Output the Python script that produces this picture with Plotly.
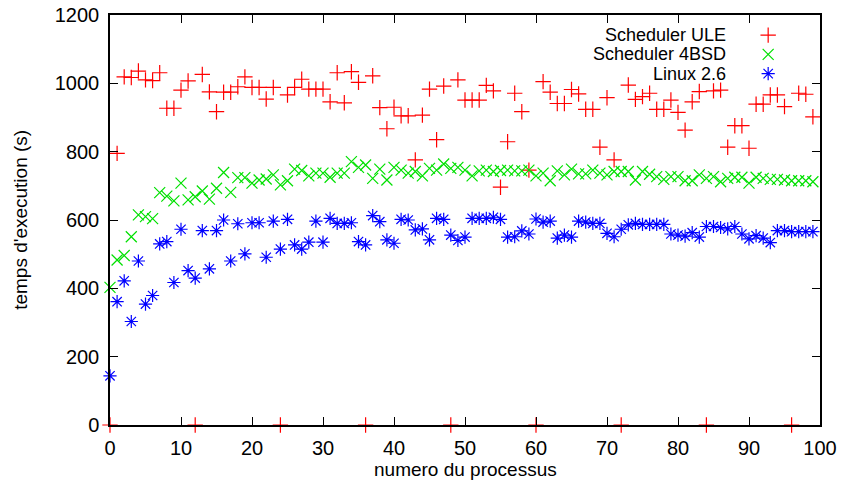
import plotly.graph_objects as go

process = list(range(100))

ule = [0, 795, 1019, 1017, 1036, 1010, 1008, 1031, 927, 927, 980, 1007, 0, 1026, 975, 917, 974, 974, 990, 1019,
       988, 988, 954, 988, 0, 966, 988, 1012, 983, 983, 983, 946, 1031, 943, 1034, 1003, 0, 1022, 929, 867,
       930, 905, 905, 776, 907, 983, 835, 992, 0, 1010, 951, 951, 951, 994, 978, 696, 829, 971, 917, 746,
       0, 1005, 974, 941, 941, 982, 969, 924, 924, 813, 958, 776, 0, 995, 953, 961, 971, 924, 924, 951,
       915, 863, 946, 976, 0, 978, 980, 813, 876, 876, 810, 939, 939, 966, 966, 932, 0, 971, 968, 902]

bsd = [403, 483, 496, 551, 615, 610, 604, 680, 670, 656, 708, 659, 668, 685, 661, 693, 739, 681, 724, 724,
       708, 717, 720, 732, 703, 715, 749, 745, 729, 737, 737, 725, 737, 737, 771, 754, 761, 722, 749, 717,
       754, 746, 737, 742, 729, 751, 746, 764, 751, 754, 746, 729, 744, 746, 742, 745, 746, 744, 744, 746,
       729, 737, 715, 744, 732, 749, 735, 735, 746, 737, 732, 742, 742, 742, 717, 742, 734, 727, 719, 727,
       727, 715, 715, 732, 722, 727, 712, 722, 725, 725, 708, 725, 722, 719, 719, 717, 715, 715, 715, 712]

linux = [144, 361, 422, 303, 480, 354, 379, 530, 537, 417, 573, 452, 430, 569, 457, 569, 600, 480, 589, 501,
         592, 592, 491, 597, 515, 602, 527, 515, 535, 597, 535, 605, 590, 590, 592, 537, 527, 613, 595, 542,
         532, 602, 600, 571, 574, 542, 605, 602, 556, 540, 550, 605, 605, 605, 608, 602, 550, 551, 568, 559,
         603, 594, 597, 547, 556, 550, 597, 594, 590, 590, 561, 551, 573, 586, 590, 587, 587, 587, 587, 559,
         556, 553, 563, 550, 581, 581, 578, 574, 581, 559, 545, 554, 547, 534, 569, 569, 566, 566, 566, 566]

series_names = ["Scheduler ULE", "Scheduler 4BSD", "Linux 2.6"]
series_values = [ule, bsd, linux]
colors = ["#ff0000", "#00e000", "#0000ff"]
symbols = ["cross-thin", "x-thin", "asterisk"]
sizes = [11, 11, 11]

x_ticks = list(range(0, 101, 10))
y_ticks = list(range(0, 1201, 200))

x_title = "numero du processus"
y_title = "temps d'execution (s)"

FONT = "Liberation Sans"

fig = go.Figure()
for name, vals, c, s, sz in zip(series_names, series_values, colors, symbols, sizes):
    fig.add_trace(go.Scatter(
        x=process, y=vals, mode="markers", name=name, showlegend=False,
        cliponaxis=False,
        marker=dict(symbol=s, size=sz, color=c, line=dict(color=c, width=1.2)),
    ))

# custom legend (text on left, symbol on right) on an overlay axis
leg_y = [0.951, 0.904, 0.857]
for name, c, s, sz, ly in zip(series_names, colors, symbols, sizes, leg_y):
    fig.add_trace(go.Scatter(
        x=[0.927], y=[ly], xaxis="x2", yaxis="y2", mode="markers", showlegend=False,
        hoverinfo="skip", cliponaxis=False,
        marker=dict(symbol=s, size=sz, color=c, line=dict(color=c, width=1.2)),
    ))
    fig.add_annotation(x=0.870, y=ly, xref="paper", yref="paper", text=name,
                       showarrow=False, xanchor="right", yanchor="middle",
                       font=dict(family=FONT, size=18, color="black"))

# axis titles
fig.add_annotation(x=0.5, y=-0.108, xref="paper", yref="paper", text=x_title,
                   showarrow=False, xanchor="center", yanchor="middle",
                   font=dict(family=FONT, size=19, color="black"))
fig.add_annotation(x=-0.127, y=0.5, xref="paper", yref="paper", text=y_title,
                   showarrow=False, xanchor="center", yanchor="middle", textangle=-90,
                   font=dict(family=FONT, size=19, color="black"))

axis_common = dict(showline=True, linecolor="black", linewidth=1.5, mirror="allticks",
                   ticks="inside", ticklen=8, tickwidth=1.2, tickcolor="black",
                   showgrid=False, zeroline=False, automargin=False,
                   ticklabeloverflow="allow",
                   tickfont=dict(family=FONT, size=20, color="black"))

fig.update_layout(
    width=841, height=485,
    margin=dict(l=110, r=21, t=15, b=60),
    paper_bgcolor="white", plot_bgcolor="white",
    font=dict(family=FONT, size=18, color="black"),
    xaxis=dict(range=[0, 100], tickvals=x_ticks, ticklabelstandoff=4, **axis_common),
    yaxis=dict(range=[0, 1200], tickvals=y_ticks, ticklabelstandoff=5, **axis_common),
    xaxis2=dict(range=[0, 1], overlaying="x", visible=False, fixedrange=True),
    yaxis2=dict(range=[0, 1], overlaying="y", visible=False, fixedrange=True),
)

# remove the page's default body margin so the figure fills the window exactly
fig.write_html("out.html", config={"displayModeBar": False},
               post_script="document.body.style.margin='0';")
